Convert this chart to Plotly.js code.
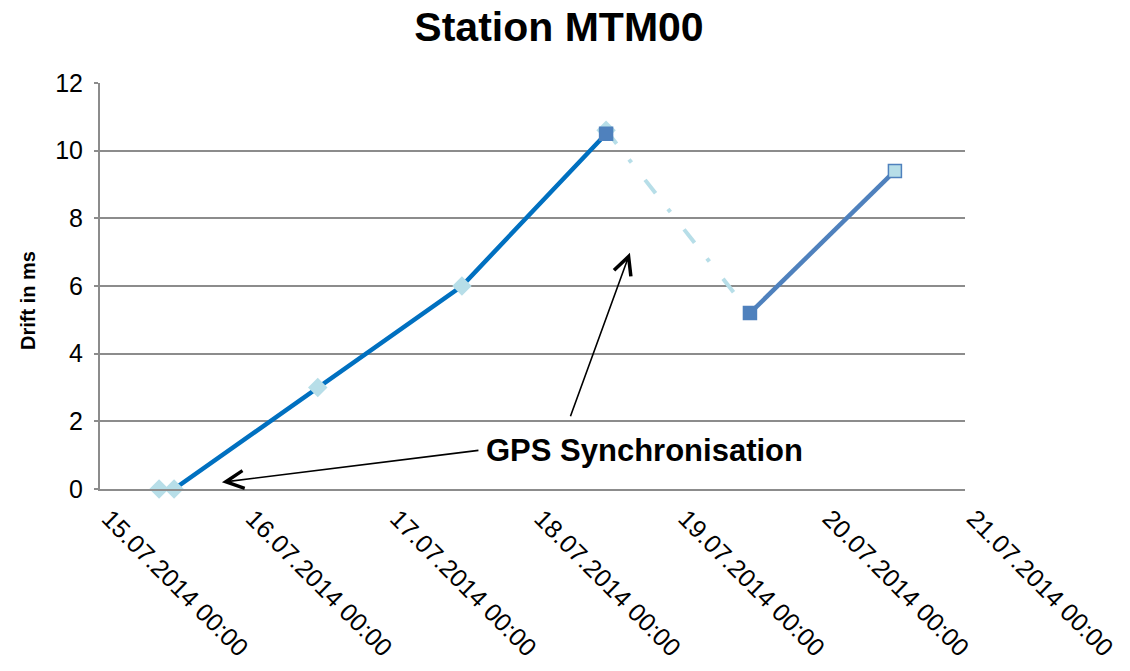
<!DOCTYPE html>
<html>
<head>
<meta charset="utf-8">
<script src="https://cdn.plot.ly/plotly-3.0.1.min.js"></script>
<style>html,body{margin:0;padding:0;background:#fff;}#chart{width:1130px;height:671px;}</style>
</head>
<body>
<div id="chart"></div>
<script>
// Data
const mainLineX = ['2014-07-15 12:20', '2014-07-16 12:15', '2014-07-17 12:15', '2014-07-18 12:15'];
const mainLineY = [0, 3, 6, 10.5];
const diamondX = ['2014-07-15 09:50', '2014-07-15 12:20', '2014-07-16 12:15', '2014-07-17 12:15', '2014-07-18 12:15'];
const diamondY = [0, 0, 3, 6, 10.6];
const gapX = ['2014-07-18 12:15', '2014-07-19 12:12'];
const gapY = [10.6, 5.2];
const squareX = ['2014-07-18 12:15', '2014-07-19 12:12', '2014-07-20 12:20'];
const squareY = [10.5, 5.2, 9.4];
const tickDates = ['2014-07-15', '2014-07-16', '2014-07-17', '2014-07-18', '2014-07-19', '2014-07-20', '2014-07-21'];
const tickLabels = ['15.07.2014 00:00', '16.07.2014 00:00', '17.07.2014 00:00', '18.07.2014 00:00', '19.07.2014 00:00', '20.07.2014 00:00', '21.07.2014 00:00'];
const yTicks = [0, 2, 4, 6, 8, 10, 12];

const FONT = '"Liberation Sans", Arial, sans-serif';
const traces = [
  {x: mainLineX, y: mainLineY, mode: 'lines', line: {color: '#0070c0', width: 4.5}, cliponaxis: false, hoverinfo: 'skip'},
  {x: gapX, y: gapY, mode: 'lines', line: {color: '#b7dee8', width: 4, dash: '17px,20px,4px,22px'}, hoverinfo: 'skip'},
  {x: diamondX, y: diamondY, mode: 'markers', cliponaxis: false, marker: {symbol: 'diamond', size: 15, color: '#b7dee8', line: {width: 0}}},
  {x: squareX.slice(1), y: squareY.slice(1), mode: 'lines', line: {color: '#4f81bd', width: 4.5}, hoverinfo: 'skip'},
  {x: squareX, y: squareY, mode: 'markers', cliponaxis: false, marker: {symbol: 'square', size: 13, color: ['#4f81bd', '#4f81bd', '#b7dee8'], line: {color: '#4f81bd', width: 1.5}}}
];

const layout = {
  width: 1130, height: 671,
  margin: {l: 100, r: 165, t: 83, b: 182},
  paper_bgcolor: '#fff', plot_bgcolor: '#fff',
  showlegend: false,
  font: {family: FONT, color: '#000', size: 25},
  title: {text: '<b>Station MTM00</b>', font: {family: FONT, size: 41, color: '#000'}, xref: 'container', x: 0.4947, xanchor: 'center', yref: 'container', y: 0.96, yanchor: 'middle'},
  xaxis: {
    type: 'date', range: ['2014-07-15', '2014-07-21'],
    tickmode: 'array', tickvals: tickDates, ticktext: tickLabels,
    tickangle: 45, showgrid: false, zeroline: false,
    showline: true, linecolor: '#8c8c8c', linewidth: 2,
    ticks: '', ticklabelstandoff: 3, ticklabelshift: 9, tickfont: {family: FONT, size: 25, color: '#000'}
  },
  yaxis: {
    range: [0, 12], tickmode: 'array', tickvals: yTicks,
    showgrid: true, gridcolor: '#8c8c8c', gridwidth: 2, zeroline: false,
    showline: true, linecolor: '#8c8c8c', linewidth: 2,
    ticks: 'outside', ticklen: 4, tickcolor: '#8c8c8c', tickwidth: 2,
    ticklabelstandoff: 6,
    tickfont: {family: FONT, size: 25, color: '#000'}
  },
  annotations: [
    {xref: 'paper', yref: 'paper', x: 0.630, y: 0.096, text: '<b>GPS Synchronisation</b>', showarrow: false, font: {family: FONT, size: 31, color: '#000'}, xanchor: 'center', yanchor: 'middle'},
    {xref: 'paper', yref: 'paper', x: -0.0832, y: 0.463, text: '<b>Drift in ms</b>', textangle: -90, showarrow: false, font: {family: FONT, size: 20, color: '#000'}, xanchor: 'center', yanchor: 'middle'},
    {xref: 'x', yref: 'y', x: '2014-07-15 20:18', y: 0.2, ax: 258, ay: -32, text: '', showarrow: true, arrowhead: 5, arrowsize: 2.2, arrowwidth: 1.6, arrowcolor: '#000'},
    {xref: 'x', yref: 'y', x: '2014-07-18 16:13', y: 6.98, ax: -60, ay: 165, text: '', showarrow: true, arrowhead: 5, arrowsize: 2.2, arrowwidth: 1.6, arrowcolor: '#000'}
  ]
};
Plotly.newPlot('chart', traces, layout, {displayModeBar: false, staticPlot: true});
</script>
</body>
</html>
